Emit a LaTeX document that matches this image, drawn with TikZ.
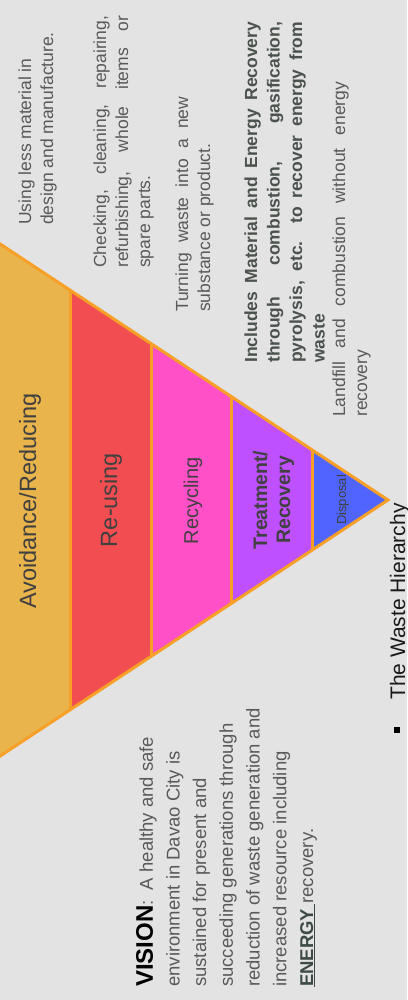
\documentclass[tikz,border=0pt]{standalone}
\usepackage{fontspec}
\setmainfont{Liberation Sans}
\definecolor{slidebg}{HTML}{E3E3E3}
\definecolor{edgeC}{HTML}{F7A028}
\definecolor{avoidC}{HTML}{E8B44B}
\definecolor{reuseC}{HTML}{F24E52}
\definecolor{recycC}{HTML}{FF50C8}
\definecolor{treatC}{HTML}{BE50FF}
\definecolor{dispC}{HTML}{5064FF}
\definecolor{lvlC}{HTML}{404040}
\definecolor{descC}{HTML}{595959}
\definecolor{boldC}{HTML}{4B524D}
\definecolor{energyC}{HTML}{3D4A45}

\begin{document}
\begin{tikzpicture}[x=1pt, y=-1pt,
  edge/.style={draw=edgeC, line width=3pt},
  lvl/.style={rotate=90, inner sep=0pt, text=lvlC, anchor=base},
  desc/.style={rotate=90, inner sep=0pt, text=descC, anchor=base west, font=\fontsize{17.5}{22}\selectfont}]
  \useasboundingbox (0,0) rectangle (407,1000);
  \clip (0,0) rectangle (407,1000);
  \fill[slidebg] (0,0) rectangle (407,1000);
  % pyramid, lying on its side
  \coordinate (apex) at (388,500);
  \coordinate (tl) at (-10,237.3);
  \coordinate (bl) at (-10,762.7);
  \begin{scope}
    \clip (tl) -- (apex) -- (bl) -- cycle;
    \foreach \xa/\xb/\col in {-10/70/avoidC, 70/151/reuseC, 151/231/recycC, 231/312/treatC, 312/400/dispC}
      {\fill[\col] (\xa,200) rectangle (\xb,800);}
    \foreach \xv in {70,151,231,312} {\draw[edge] (\xv,200) -- (\xv,800);}
  \end{scope}
  \draw[edge, line join=miter] (tl) -- (apex) -- (bl);
  % level names (multi-line nodes sit on their last baseline)
  \node[lvl, font=\fontsize{23.5}{28}\selectfont] (avoid) at (36,501) {Avoidance/Reducing};
  \node[lvl, font=\fontsize{23.5}{28}\selectfont] (reuse) at (117,500) {Re-using};
  \node[lvl, font=\fontsize{20}{24}\selectfont] (recyc) at (198,501) {Recycling};
  \node[lvl, font=\bfseries\fontsize{19.5}{23}\selectfont, align=center] (treat) at (290,500) {Treatment/\\Recovery};
  \node[lvl, font=\fontsize{13}{16}\selectfont] (disp) at (346,500) {Disposal};
  % descriptions
  \node[desc, align=left] (d1) at (53,225) {Using less material in\\design and manufacture.};
  \node[desc, text width=252pt, align=justify] (d2) at (106,268) {Checking, cleaning, repairing,\linebreak refurbishing, whole items or\linebreak spare parts.};
  \node[desc, text width=215pt, align=justify] (d3) at (188,312) {Turning waste into a new\linebreak substance or product.};
  \node[desc, text width=341pt, align=justify, text=boldC, font=\bfseries\fontsize{17.5}{22.5}\selectfont] (d4) at (257,363) {Includes Material and Energy Recovery\linebreak through combustion, gasification,\linebreak pyrolysis, etc. to recover energy from\linebreak waste};
  \node[desc, text width=335pt, align=justify] (d5) at (345,417) {Landfill and combustion without energy\linebreak recovery};
  % vision statement
  \node[desc, align=left, font=\fontsize{18.5}{26.7}\selectfont] (vision) at (313,987)
    {{\color{black}\bfseries\fontsize{24}{26.7}\selectfont VISION}:\ \ A healthy and safe\\
     environment in Davao City is\\
     sustained for present and\\
     succeeding generations through\\
     reduction of waste generation and\\
     increased resource including\\
     {\color{energyC}\underline{\textbf{ENERGY}\ }}recovery.};
  % caption with bullet
  \node[rotate=90, fill=black, minimum size=6pt, inner sep=0pt] (bullet) at (397,730) {};
  \node[rotate=90, inner sep=0pt, anchor=base west, text=black!90, font=\fontsize{21}{25}\selectfont] (title) at (405,700) {The Waste Hierarchy};
\end{tikzpicture}
\end{document}
